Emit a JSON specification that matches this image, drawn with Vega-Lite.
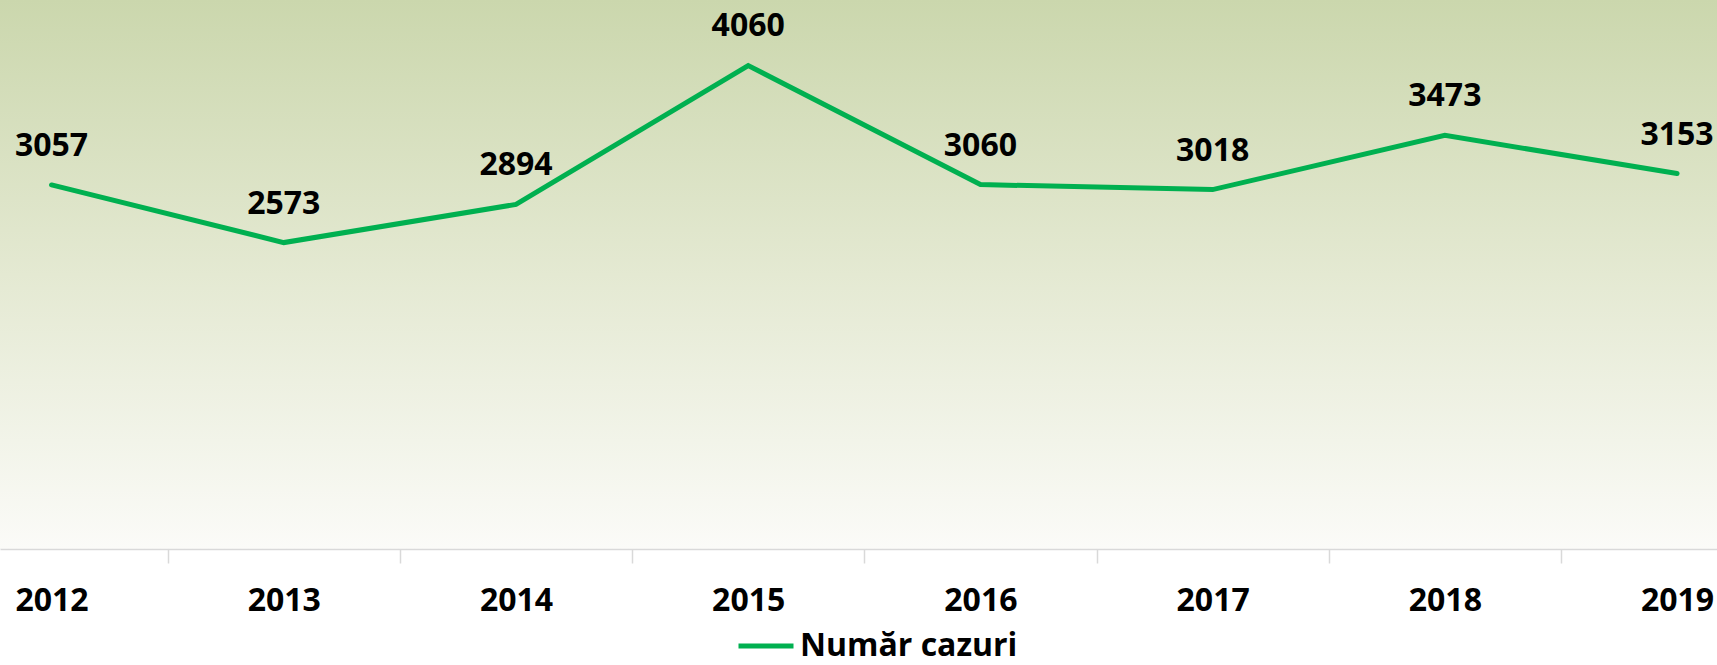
{
  "$schema": "https://vega.github.io/schema/vega-lite/v6.json",
  "width": 1717,
  "height": 549,
  "padding": {"top": 0, "left": 0, "right": 0, "bottom": 116},
  "autosize": {"type": "none"},
  "background": "#ffffff",
  "config": {
    "view": {
      "stroke": null,
      "fill": {"gradient": "linear", "x1": 0, "y1": 0, "x2": 0, "y2": 1,
        "stops": [
          {"offset": 0, "color": "#cbd7ad"},
          {"offset": 0.5, "color": "#e4e9d2"},
          {"offset": 1, "color": "#fbfbf8"}
        ]}
    },
    "font": "Open Sans"
  },
  "data": {
    "values": [
      {"year": 2012, "value": 3057, "series": "Număr cazuri"},
      {"year": 2013, "value": 2573, "series": "Număr cazuri"},
      {"year": 2014, "value": 2894, "series": "Număr cazuri"},
      {"year": 2015, "value": 4060, "series": "Număr cazuri"},
      {"year": 2016, "value": 3060, "series": "Număr cazuri"},
      {"year": 2017, "value": 3018, "series": "Număr cazuri"},
      {"year": 2018, "value": 3473, "series": "Număr cazuri"},
      {"year": 2019, "value": 3153, "series": "Număr cazuri"}
    ]
  },
  "encoding": {
    "x": {
      "field": "year", "type": "quantitative",
      "scale": {"domain": [2011.778, 2019.172], "nice": false, "zero": false},
      "axis": {
        "title": null,
        "grid": false,
        "values": [2012, 2012.5, 2013, 2013.5, 2014, 2014.5, 2015, 2015.5, 2016, 2016.5, 2017, 2017.5, 2018, 2018.5, 2019],
        "labelExpr": "datum.value % 1 == 0 ? format(datum.value, 'd') : ''",
        "labelFlush": false,
        "labelOverlap": false,
        "domainColor": "#d9d9d9",
        "domainWidth": 1.5,
        "tickColor": "#d9d9d9",
        "tickWidth": 1.5,
        "tickSize": 14,
        "tickOpacity": {"condition": {"test": "datum.value % 1 == 0", "value": 0}, "value": 1},
        "labelPadding": 22,
        "labelFont": "Open Sans",
        "labelFontSize": 32,
        "labelFontWeight": "bold",
        "labelColor": "#000000"
      }
    },
    "y": {
      "field": "value", "type": "quantitative",
      "scale": {"domain": [0, 4610], "nice": false},
      "axis": null
    }
  },
  "layer": [
    {
      "mark": {"type": "line", "strokeWidth": 5, "strokeCap": "round", "strokeJoin": "miter"},
      "encoding": {
        "color": {
          "field": "series", "type": "nominal",
          "scale": {"domain": ["Număr cazuri"], "range": ["#00b050"]},
          "legend": {
            "title": null,
            "orient": "none",
            "legendX": 736,
            "legendY": 616,
            "direction": "horizontal",
            "symbolType": "stroke",
            "symbolSize": 3025,
            "symbolStrokeWidth": 5,
            "labelFont": "Open Sans",
            "labelFontSize": 32,
            "labelFontWeight": "bold",
            "labelColor": "#000000",
            "labelOffset": 4,
            "labelLimit": 500
          }
        }
      }
    },
    {
      "mark": {"type": "text", "font": "Open Sans", "fontSize": 32, "fontWeight": "bold", "color": "#000000", "baseline": "alphabetic", "dy": -29},
      "encoding": {
        "text": {"field": "value", "type": "quantitative", "format": "d"}
      }
    }
  ]
}
